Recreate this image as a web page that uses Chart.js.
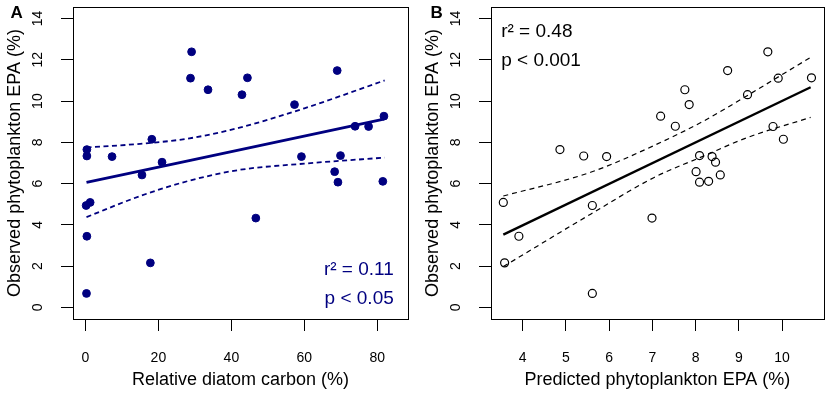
<!DOCTYPE html>
<html>
<head>
<meta charset="utf-8">
<script src="https://cdn.jsdelivr.net/npm/chart.js@4.4.0/dist/chart.umd.min.js"></script>
<style>
  html, body { margin: 0; padding: 0; background: #fff; }
  #wrap { position: relative; width: 829px; height: 393px; }
  #ca { position: absolute; left: 0; top: 0; }
  #cb { position: absolute; left: 418px; top: 0; }
</style>
</head>
<body>
<div id="wrap">
  <canvas id="ca" width="418" height="393"></canvas>
  <canvas id="cb" width="411" height="393"></canvas>
</div>
<script>
const NAVY = '#000080';
const FONT = "'Liberation Sans', Arial, sans-serif";

// observations (same order in both panels)
const observedEPA = [7.65, 7.34, 7.31, 7.31, 7.36, 6.42, 8.15, 7.04, 12.39, 11.11, 11.13, 10.55, 10.31, 9.83,
                     11.48, 6.58, 6.07, 6.11, 8.78, 8.77, 9.27, 4.94, 5.09, 3.45, 2.16, 0.68, 4.33];
const diatomCarbon = [0.4, 0.4, 7.3, 59.2, 69.9, 15.5, 18.2, 21.0, 29.1, 28.8, 44.4, 33.6, 42.9, 57.3,
                      69.0, 68.3, 69.2, 81.5, 73.9, 77.6, 81.8, 0.2, 1.3, 0.4, 17.8, 0.3, 46.7];
const predictedEPA = [4.86, 5.41, 5.94, 8.38, 8.09, 8.57, 10.03, 8.46, 9.67, 9.91, 10.68, 7.75, 9.20, 7.85,
                      8.74, 8.01, 8.09, 8.30, 7.53, 9.79, 7.19, 5.61, 3.55, 3.91, 3.58, 5.61, 6.99];

// panel A fit and 95% band
const fitAx = [0.3, 81.8];
const fitAy = [6.06, 9.13];
const bandAx = [0.3, 15, 28, 42, 60, 82];
const bandAupper = [7.75, 7.93, 8.18, 8.70, 9.65, 11.0];
const bandAlower = [4.38, 5.40, 6.12, 6.66, 6.97, 7.26];

// panel B fit and 95% band
const fitBx = [3.55, 10.66];
const fitBy = [3.53, 10.67];
const bandBx = [3.55, 5.57, 7.04, 8.2, 9.18, 10.66];
const bandBupper = [5.40, 6.55, 7.85, 9.05, 10.25, 12.12];
const bandBlower = [1.98, 4.52, 6.30, 7.35, 8.22, 9.21];

const yTicks = [0, 2, 4, 6, 8, 10, 12, 14];
const xTicksA = [0, 20, 40, 60, 80];
const xTicksB = [4, 5, 6, 7, 8, 9, 10];

const toXY = (xs, ys) => xs.map((x, i) => ({ x, y: ys[i] }));

// box, panel letter and r²/p text
const rStyle = {
  id: 'rStyle',
  afterDraw(chart, args, o) {
    const { ctx, chartArea: a, scales } = chart;
    ctx.save();
    ctx.strokeStyle = '#000';
    ctx.lineWidth = 1;
    ctx.strokeRect(Math.round(a.left) + 0.5, Math.round(a.top) + 0.5,
                   Math.round(a.right - a.left), Math.round(a.bottom - a.top));
    ctx.fillStyle = '#000';
    ctx.font = 'bold 17px ' + FONT;
    ctx.textAlign = 'center';
    ctx.textBaseline = 'alphabetic';
    ctx.fillText(o.letter, o.letterX, 17.5);
    ctx.fillStyle = o.color;
    ctx.font = '19px ' + FONT;
    ctx.textAlign = o.align;
    o.notes.forEach(n => {
      ctx.fillText(n.text, scales.x.getPixelForValue(n.x), scales.y.getPixelForValue(n.y));
    });
    ctx.restore();
  }
};

function axis(min, max, ticks, title, isY) {
  return {
    type: 'linear',
    min, max,
    afterBuildTicks: s => { s.ticks = ticks.map(v => ({ value: v })); },
    afterFit: s => {
      if (isY) s.width = 73; else s.height = 74;
      s.paddingTop = s.paddingBottom = s.paddingLeft = s.paddingRight = 0;
    },
    border: { display: false },
    grid: { display: true, drawOnChartArea: false, drawTicks: true, tickLength: 12, color: '#000', lineWidth: 1 },
    ticks: isY
      ? { autoSkip: false, minRotation: 90, maxRotation: 90, crossAlign: 'center', padding: 15,
          color: '#000', font: { family: FONT, size: 14 } }
      : { autoSkip: false, maxRotation: 0, padding: 19, color: '#000', font: { family: FONT, size: 14 } },
    title: { display: true, text: title, color: '#000', font: { family: FONT, size: 18 },
             padding: isY ? { top: 4, bottom: 4 } : { top: 4, bottom: 2 } }
  };
}

function panel(canvas, cfg) {
  return new Chart(canvas.getContext('2d'), {
    type: 'scatter',
    data: { datasets: cfg.datasets },
    options: {
      responsive: false,
      animation: false,
      layout: { padding: { top: 7, right: cfg.padRight, left: 0, bottom: 0 } },
      plugins: { legend: { display: false }, tooltip: { enabled: false }, rStyle: cfg.notes },
      scales: {
        x: axis(cfg.xMin, cfg.xMax, cfg.xTicks, cfg.xTitle, false),
        y: axis(-0.56, 14.56, yTicks, 'Observed phytoplankton EPA (%)', true)
      }
    },
    plugins: [rStyle]
  });
}

function lineSet(xs, ys, color, width, dash) {
  return {
    data: toXY(xs, ys), showLine: true, pointRadius: 0, borderColor: color,
    borderWidth: width, borderDash: dash, cubicInterpolationMode: 'monotone', fill: false
  };
}

panel(document.getElementById('ca'), {
  padRight: 10,
  xMin: -3.4, xMax: 88.4, xTicks: xTicksA, xTitle: 'Relative diatom carbon (%)',
  datasets: [
    lineSet(fitAx, fitAy, NAVY, 2.8, []),
    lineSet(bandAx, bandAupper, NAVY, 1.8, [5, 3.5]),
    lineSet(bandAx, bandAlower, NAVY, 1.8, [5, 3.5]),
    { data: toXY(diatomCarbon, observedEPA), pointRadius: 3.9, borderWidth: 1,
      backgroundColor: NAVY, borderColor: NAVY }
  ],
  notes: { letter: 'A', letterX: 16.7, color: NAVY, align: 'right',
           notes: [{ text: 'r\u00b2 = 0.11', x: 84.5, y: 1.59 }, { text: 'p < 0.05', x: 84.5, y: 0.18 }] }
});

panel(document.getElementById('cb'), {
  padRight: 3,
  xMin: 3.265, xMax: 10.965, xTicks: xTicksB, xTitle: 'Predicted phytoplankton EPA (%)',
  datasets: [
    lineSet(fitBx, fitBy, '#000', 2.4, []),
    lineSet(bandBx, bandBupper, '#000', 1.2, [5, 4]),
    lineSet(bandBx, bandBlower, '#000', 1.2, [5, 4]),
    { data: toXY(predictedEPA, observedEPA), pointRadius: 4, borderWidth: 1.2,
      backgroundColor: 'rgba(0,0,0,0)', borderColor: '#000' }
  ],
  notes: { letter: 'B', letterX: 18.7, color: '#000', align: 'left',
           notes: [{ text: 'r\u00b2 = 0.48', x: 3.50, y: 13.10 }, { text: 'p < 0.001', x: 3.50, y: 11.72 }] }
});
</script>
</body>
</html>
